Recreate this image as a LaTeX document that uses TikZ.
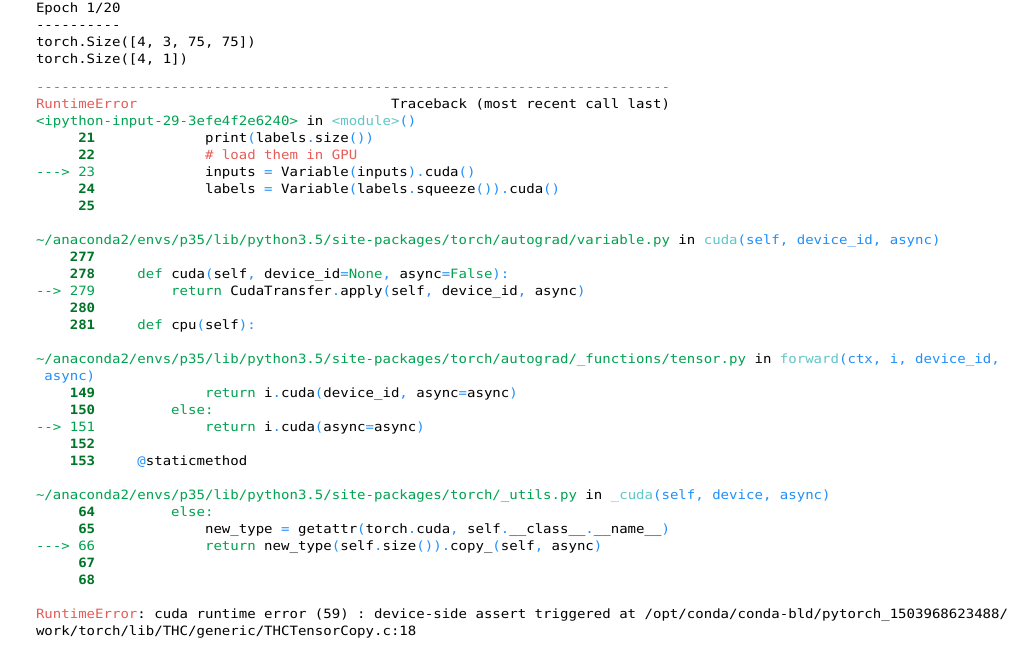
\documentclass[tikz,border=0pt]{standalone}
\usepackage{fontspec}
\setmonofont[FakeStretch=1.097]{DejaVu Sans Mono}
\usepackage{tikz}
\usetikzlibrary{positioning}
\definecolor{ansired}{HTML}{E75C58}
\definecolor{ansigreen}{HTML}{00A250}
\definecolor{ansigreenbold}{HTML}{007427}
\definecolor{ansicyan}{HTML}{60C6C8}
\definecolor{ansiblue}{HTML}{208FFB}
\newcommand\termfont{\ttfamily\fontsize{12.8pt}{17pt}\selectfont}
\newcommand\punc[1]{\textcolor{ansiblue}{#1}}
\newcommand\kwd[1]{\textcolor{ansigreen}{#1}}
\newcommand\fname[1]{\textcolor{ansicyan}{#1}}
\newcommand\errc[1]{\textcolor{ansired}{#1}}
\begin{document}
\begin{tikzpicture}[txt/.style={anchor=base west, inner sep=0pt, font=\termfont},
                    lnum/.style={txt, font=\termfont\bfseries, text=ansigreenbold},
                    cur/.style={txt, text=ansigreen}]
    \fill[white] (0,0) rectangle (1015pt,-660pt);
    \useasboundingbox (0,0) rectangle (1015pt,-660pt);
    \begin{scope}[x=8.453pt, y=-17.02pt, shift={(35.8pt,-108.3pt)}]
        % printed output
        \node[txt] (epoch) at (0,-5.62) {Epoch 1/20};
        \node[txt] (sepa) at (0,-4.62) {----------};
        \node[txt] (sizea) at (0,-3.62) {torch.Size([4, 3, 75, 75])};
        \node[txt] (sizeb) at (0,-2.62) {torch.Size([4, 1])};

        % traceback header
        \node[txt, text=ansired] (rule) at (0,-1) {---------------------------------------------------------------------------};
        \node[txt, text=ansired] (errname) at (0,0) {RuntimeError};
        \node[txt] (tbhead) at (42,0) {Traceback (most recent call last)};

        % frame 1
        \node[txt] (cell) at (0,1) {\kwd{<ipython-input-29-3efe4f2e6240>} in \fname{<module>}\punc{()}};
        \node[lnum] (n21) at (5,2) {21};
        \node[txt] (c21) at (20,2) {print\punc{(}labels\punc{.}size\punc{()}\punc{)}};
        \node[lnum] (n22) at (5,3) {22};
        \node[txt, text=ansired] (c22) at (20,3) {\# load them in GPU};
        \node[cur] (n23) at (0,4) {---> 23};
        \node[txt] (c23) at (20,4) {inputs \punc{=} Variable\punc{(}inputs\punc{)}\punc{.}cuda\punc{()}};
        \node[lnum] (n24) at (5,5) {24};
        \node[txt] (c24) at (20,5) {labels \punc{=} Variable\punc{(}labels\punc{.}squeeze\punc{()}\punc{)}\punc{.}cuda\punc{()}};
        \node[lnum] (n25) at (5,6) {25};

        % frame 2
        \node[txt] (filea) at (0,8) {\kwd{\textasciitilde/anaconda2/envs/p35/lib/python3.5/site-packages/torch/autograd/variable.py} in \fname{cuda}\punc{(self, device\_id, async)}};
        \node[lnum] (n277) at (4,9) {277};
        \node[lnum] (n278) at (4,10) {278};
        \node[txt] (c278) at (12,10) {\kwd{def} cuda\punc{(}self\punc{,} device\_id\punc{=}\kwd{None}\punc{,} async\punc{=}\kwd{False}\punc{):}};
        \node[cur] (n279) at (0,11) {--> 279};
        \node[txt] (c279) at (16,11) {\kwd{return} CudaTransfer\punc{.}apply\punc{(}self\punc{,} device\_id\punc{,} async\punc{)}};
        \node[lnum] (n280) at (4,12) {280};
        \node[lnum] (n281) at (4,13) {281};
        \node[txt] (c281) at (12,13) {\kwd{def} cpu\punc{(}self\punc{):}};

        % frame 3
        \node[txt] (fileb) at (0,15) {\kwd{\textasciitilde/anaconda2/envs/p35/lib/python3.5/site-packages/torch/autograd/\_functions/tensor.py} in \fname{forward}\punc{(ctx, i, device\_id,}};
        \node[txt, text=ansiblue] (fileb2) at (1,16) {async)};
        \node[lnum] (n149) at (4,17) {149};
        \node[txt] (c149) at (20,17) {\kwd{return} i\punc{.}cuda\punc{(}device\_id\punc{,} async\punc{=}async\punc{)}};
        \node[lnum] (n150) at (4,18) {150};
        \node[txt] (c150) at (16,18) {\kwd{else:}};
        \node[cur] (n151) at (0,19) {--> 151};
        \node[txt] (c151) at (20,19) {\kwd{return} i\punc{.}cuda\punc{(}async\punc{=}async\punc{)}};
        \node[lnum] (n152) at (4,20) {152};
        \node[lnum] (n153) at (4,21) {153};
        \node[txt] (c153) at (12,21) {\punc{@}staticmethod};

        % frame 4
        \node[txt] (filec) at (0,23) {\kwd{\textasciitilde/anaconda2/envs/p35/lib/python3.5/site-packages/torch/\_utils.py} in \fname{\_cuda}\punc{(self, device, async)}};
        \node[lnum] (n64) at (5,24) {64};
        \node[txt] (c64) at (16,24) {\kwd{else:}};
        \node[lnum] (n65) at (5,25) {65};
        \node[txt] (c65) at (20,25) {new\_type \punc{=} getattr\punc{(}torch\punc{.}cuda\punc{,} self\punc{.}\_\_class\_\_\punc{.}\_\_name\_\_\punc{)}};
        \node[cur] (n66) at (0,26) {---> 66};
        \node[txt] (c66) at (20,26) {\kwd{return} new\_type\punc{(}self\punc{.}size\punc{()}\punc{)}\punc{.}copy\_\punc{(}self\punc{,} async\punc{)}};
        \node[lnum] (n67) at (5,27) {67};
        \node[lnum] (n68) at (5,28) {68};

        % final error
        \node[txt] (err) at (0,30) {\errc{RuntimeError}: cuda runtime error (59) : device-side assert triggered at /opt/conda/conda-bld/pytorch\_1503968623488/};
        \node[txt] (err2) at (0,31) {work/torch/lib/THC/generic/THCTensorCopy.c:18};
    \end{scope}
\end{tikzpicture}
\end{document}
